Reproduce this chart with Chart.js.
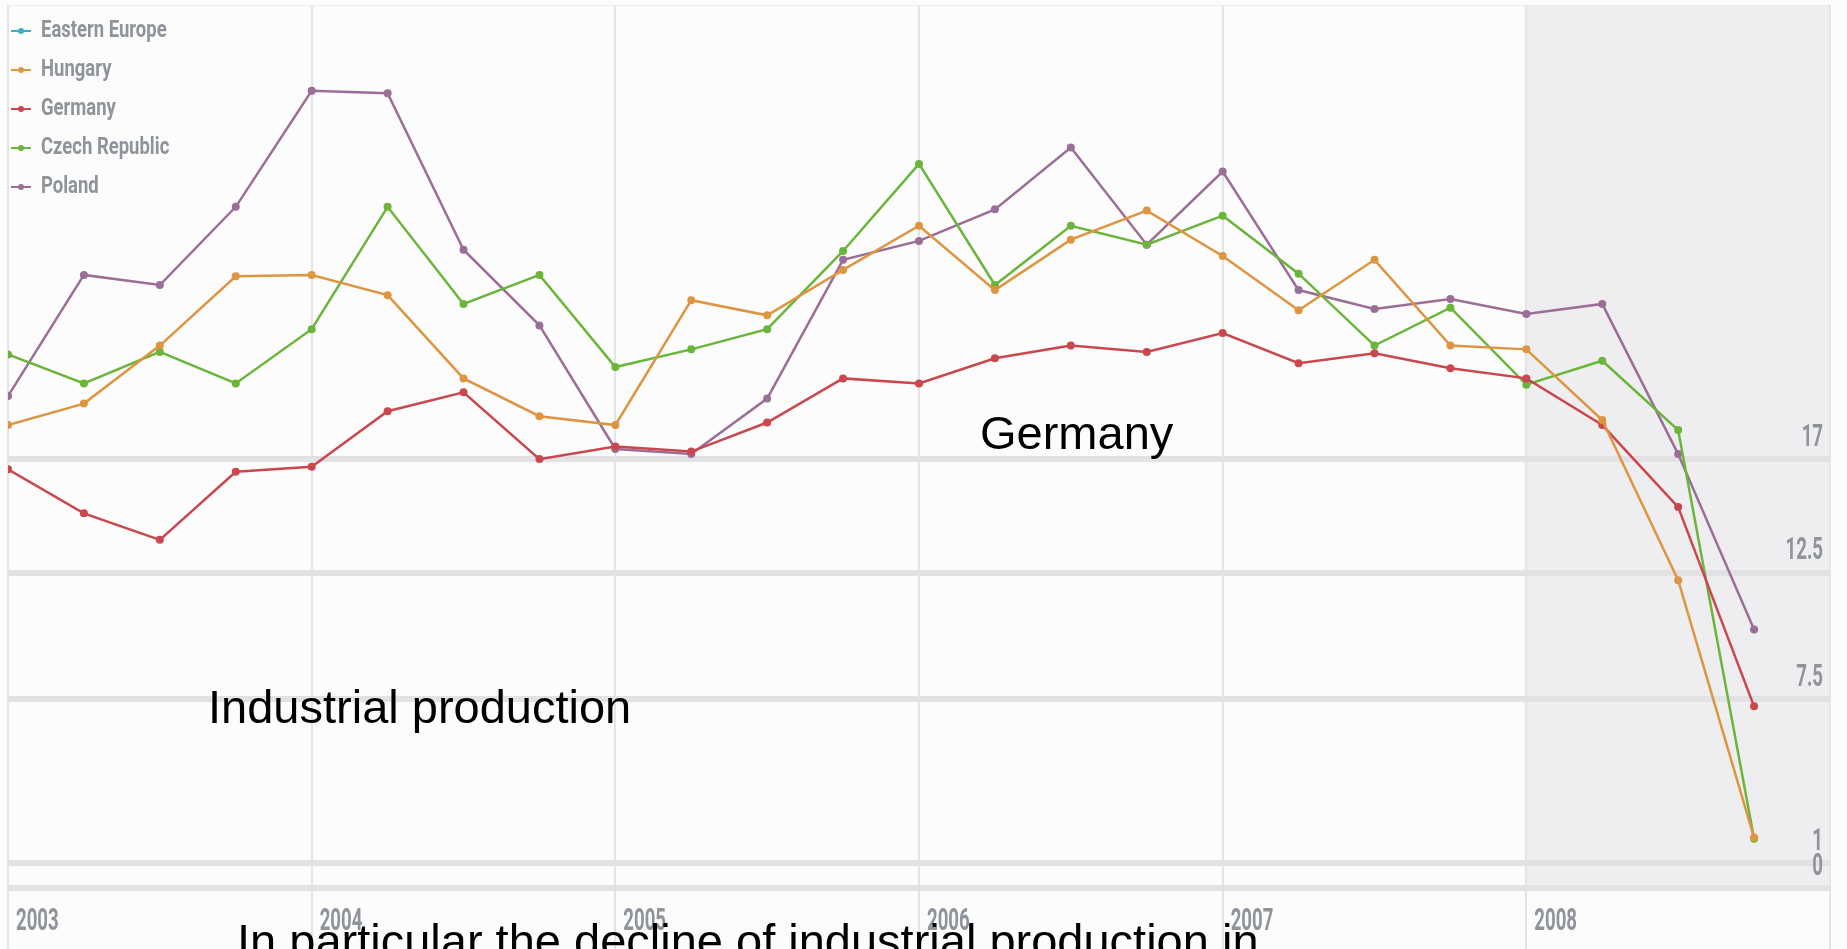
<!DOCTYPE html>
<html>
<head>
<meta charset="utf-8">
<script src="https://cdn.jsdelivr.net/npm/chart.js@4/dist/chart.umd.min.js"></script>
<style>
    html, body { margin: 0; padding: 0; background: #fbfcfb; }
    #wrap { position: relative; width: 1847px; height: 949px; overflow: hidden; }
    .note {
        position: absolute;
        font-family: "Liberation Sans", Arial, sans-serif;
        font-size: 47px;
        line-height: 47px;
        color: #000;
        white-space: nowrap;
    }
</style>
</head>
<body>
<div id="wrap">
    <canvas id="chartProduccion"></canvas>
    <div class="note" style="left:980px; top:409px;">Germany</div>
    <div class="note" style="left:208px; top:683px;">Industrial production</div>
    <div class="note" style="left:237px; top:917px;">In particular the decline of industrial production in</div>
</div>
<script>
// Años (4 trimestres por año) y series trimestrales
const years = ['2003', '2004', '2005', '2006', '2007', '2008'];
const quartersPerYear = 4;
const shadedYear = '2008';

const seriesNames = ['Eastern Europe', 'Hungary', 'Germany', 'Czech Republic', 'Poland'];
const seriesColors = ['#3aaec4', '#dd9541', '#c9474d', '#6ab53a', '#9b6e97'];

const easternEurope = [];
const hungary = [18.35, 19.2, 21.5, 24.25, 24.3, 23.5, 20.2, 18.7, 18.35, 23.3, 22.7, 24.5,
    26.25, 23.7, 25.7, 26.85, 25.05, 22.9, 24.9, 21.5, 21.35, 18.55, 12.2, 2.0];
const germany = [16.6, 14.85, 13.8, 16.5, 16.7, 18.9, 19.65, 17.0, 17.5, 17.3, 18.45, 20.2,
    20.0, 21.0, 21.5, 21.25, 22.0, 20.8, 21.2, 20.6, 20.2, 18.35, 15.1, 7.2];
const czechRepublic = [21.15, 20.0, 21.25, 20.0, 22.15, 27.0, 23.15, 24.3, 20.65, 21.35, 22.15, 25.25,
    28.7, 23.9, 26.25, 25.5, 26.65, 24.35, 21.5, 23.0, 19.95, 20.9, 18.15, 1.95];
const poland = [19.5, 24.3, 23.9, 27.0, 31.6, 31.5, 25.3, 22.3, 17.4, 17.2, 19.4, 24.9,
    25.65, 26.9, 29.35, 25.5, 28.4, 23.7, 22.95, 23.35, 22.75, 23.15, 17.2, 10.25];

const yTicks = [0, 1, 7.5, 12.5, 17];
const yMax = 35;

const seriesValues = [easternEurope, hungary, germany, czechRepublic, poland];
const xMax = years.length * quartersPerYear;

// Icono de la leyenda: línea corta con un punto en el centro
function legendMarker(color) {
    const c = document.createElement('canvas');
    c.width = 20;
    c.height = 8;
    const g = c.getContext('2d');
    g.strokeStyle = color;
    g.lineWidth = 2;
    g.beginPath();
    g.moveTo(0, 4);
    g.lineTo(20, 4);
    g.stroke();
    g.fillStyle = color;
    g.beginPath();
    g.arc(10, 4, 3, 0, Math.PI * 2);
    g.fill();
    return c;
}
const markers = seriesColors.map(legendMarker);

// Fondo y franja gris del último año
const shadePlugin = {
    id: 'shadePlugin',
    beforeDraw(chart) {
        const { ctx, chartArea, scales } = chart;
        ctx.save();
        ctx.fillStyle = '#fbfcfb';
        ctx.fillRect(0, 0, chart.width, chart.height);
        const x0 = scales.x.getPixelForValue(years.indexOf(shadedYear) * quartersPerYear);
        ctx.fillStyle = '#eeeef0';
        ctx.fillRect(x0, chartArea.top, chartArea.right - x0, chartArea.bottom - chartArea.top);
        ctx.restore();
    }
};

// Textos de ejes y leyenda en Roboto comprimido horizontalmente (tipo condensada)
const tickFont = { family: 'Roboto', size: 31, weight: 'bold' };
const legendFont = { family: 'Roboto', size: 24, weight: 'bold', lineHeight: '34px' };
const condenseBySize = { 31: 0.6, 24: 0.77 };

const condensePlugin = {
    id: 'condensePlugin',
    beforeInit(chart) {
        const ctx = chart.ctx;
        const fill = ctx.fillText.bind(ctx);
        ctx.fillText = function (text, x, y, maxWidth) {
            const m = /(\d+)px\s+Roboto/.exec(ctx.font);
            const k = m ? condenseBySize[m[1]] : undefined;
            if (!k) return fill(text, x, y, maxWidth);
            ctx.save();
            ctx.translate(x, y);
            ctx.scale(k, 1);
            fill(text, 0, 0);
            ctx.restore();
        };
    }
};

new Chart(document.getElementById('chartProduccion'), {
    type: 'line',
    data: {
        datasets: seriesNames.map((name, k) => ({
            label: name,
            data: seriesValues[k].map((v, i) => ({ x: i, y: v })),
            borderColor: seriesColors[k],
            backgroundColor: seriesColors[k],
            borderWidth: 2.5,
            pointRadius: 4,
            pointBorderWidth: 0,
            pointBackgroundColor: seriesColors[k],
            tension: 0
        }))
    },
    options: {
        responsive: true,
        maintainAspectRatio: false,
        animation: false,
        layout: { padding: { left: 8, top: 5, right: 0, bottom: 0 } },
        plugins: {
            tooltip: { enabled: false },
            legend: {
                position: 'chartArea',
                align: 'start',
                title: { display: true, text: '', padding: 0, font: { size: 14, lineHeight: 1 } },
                labels: {
                    usePointStyle: true,
                    pointStyleWidth: 16,
                    padding: 5,
                    color: '#8f939a',
                    font: legendFont,
                    generateLabels(chart) {
                        return Chart.defaults.plugins.legend.labels.generateLabels(chart).map(item => {
                            item.text = [item.text];
                            item.pointStyle = markers[item.datasetIndex];
                            return item;
                        });
                    }
                }
            }
        },
        scales: {
            x: {
                type: 'linear',
                min: 0,
                max: xMax,
                afterBuildTicks(scale) {
                    const t = [];
                    for (let v = 0; v <= xMax; v += quartersPerYear) t.push({ value: v });
                    scale.ticks = t;
                },
                afterFit(scale) {
                    scale.height = 61;
                    scale.paddingLeft = 0;
                    scale.paddingRight = 0;
                },
                border: { display: false },
                grid: {
                    color: '#e3e3ea',
                    lineWidth: 2,
                    drawTicks: true,
                    tickLength: 61
                },
                ticks: {
                    align: 'start',
                    labelOffset: 8,
                    padding: -45,
                    color: '#8f939a',
                    font: tickFont,
                    maxRotation: 0,
                    autoSkip: false,
                    callback: (v) => years[v / quartersPerYear] || ''
                }
            },
            y: {
                position: 'right',
                min: 0,
                max: yMax,
                afterBuildTicks(scale) {
                    scale.ticks = yTicks.concat([yMax]).map(v => ({ value: v }));
                },
                afterFit(scale) {
                    scale.width = 17;
                    scale.paddingTop = 0;
                    scale.paddingBottom = 0;
                },
                border: { display: false },
                grid: {
                    drawTicks: false,
                    color: (c) => c.tick && c.tick.value === yMax ? '#ebebed' : '#e2e2e5',
                    lineWidth: (c) => c.tick && c.tick.value === yMax ? 1 : 6
                },
                ticks: {
                    mirror: true,
                    padding: -7,
                    labelOffset: -21,
                    color: '#8f939a',
                    font: tickFont,
                    autoSkip: false,
                    callback: (v) => v === yMax ? '' : String(v)
                }
            }
        }
    },
    plugins: [condensePlugin, shadePlugin]
});
</script>
</body>
</html>
